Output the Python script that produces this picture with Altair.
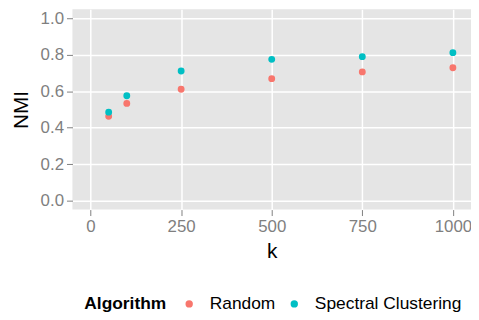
import altair as alt
import pandas as pd

k_values = [50, 100, 250, 500, 750, 1000]
random_nmi = [0.462, 0.533, 0.611, 0.669, 0.706, 0.729]
spectral_nmi = [0.485, 0.575, 0.711, 0.775, 0.790, 0.812]
algorithms = ["Random", "Spectral Clustering"]
colors = ["#F8766D", "#00BFC4"]

rows = []
for k, r, s in zip(k_values, random_nmi, spectral_nmi):
    rows.append({"k": k, "NMI": r, "Algorithm": algorithms[0]})
    rows.append({"k": k, "NMI": s, "Algorithm": algorithms[1]})
df = pd.DataFrame(rows)

FONT = "Liberation Sans"

chart = alt.Chart(df).mark_circle(size=48, opacity=1).encode(
    x=alt.X("k:Q", title="k",
            scale=alt.Scale(domain=[-50, 1050], nice=False, zero=False),
            axis=alt.Axis(values=[0, 250, 500, 750, 1000], format="d")),
    y=alt.Y("NMI:Q", title="NMI",
            scale=alt.Scale(domain=[-0.05, 1.05], nice=False, zero=False),
            axis=alt.Axis(values=[0, 0.2, 0.4, 0.6, 0.8, 1.0], format=".1f")),
    color=alt.Color("Algorithm:N",
                    scale=alt.Scale(domain=algorithms, range=colors),
                    legend=alt.Legend(orient="none", legendX=12, legendY=288,
                                      direction="horizontal", titleOrient="left")),
).properties(
    width=402, height=202,
    autosize=alt.AutoSizeParams(type="none"),
    padding={"left": 65, "top": 0, "right": 0, "bottom": 102},
).configure_view(
    fill="#E5E5E5", stroke=None
).configure_axis(
    grid=True, gridColor="white", gridWidth=1.5, domain=False,
    tickColor="#7f7f7f", tickSize=6, tickWidth=1,
    labelColor="#7f7f7f", labelFont=FONT, labelFontSize=17,
    titleFont=FONT, titleFontSize=21, titleFontWeight="normal", titleColor="black",
    labelPadding=3,
).configure_axisY(
    titlePadding=9,
).configure_axisX(
    titlePadding=6,
).configure_legend(
    titleFont=FONT, titleFontSize=17.5, titleFontWeight="bold", titleColor="black",
    labelFont=FONT, labelFontSize=17.5, labelColor="black",
    symbolType="circle", symbolSize=55, symbolStrokeWidth=0,
    columnPadding=10, titlePadding=14, labelOffset=12,
)

chart.save("out.html", embed_options={"renderer": "svg", "actions": False})
